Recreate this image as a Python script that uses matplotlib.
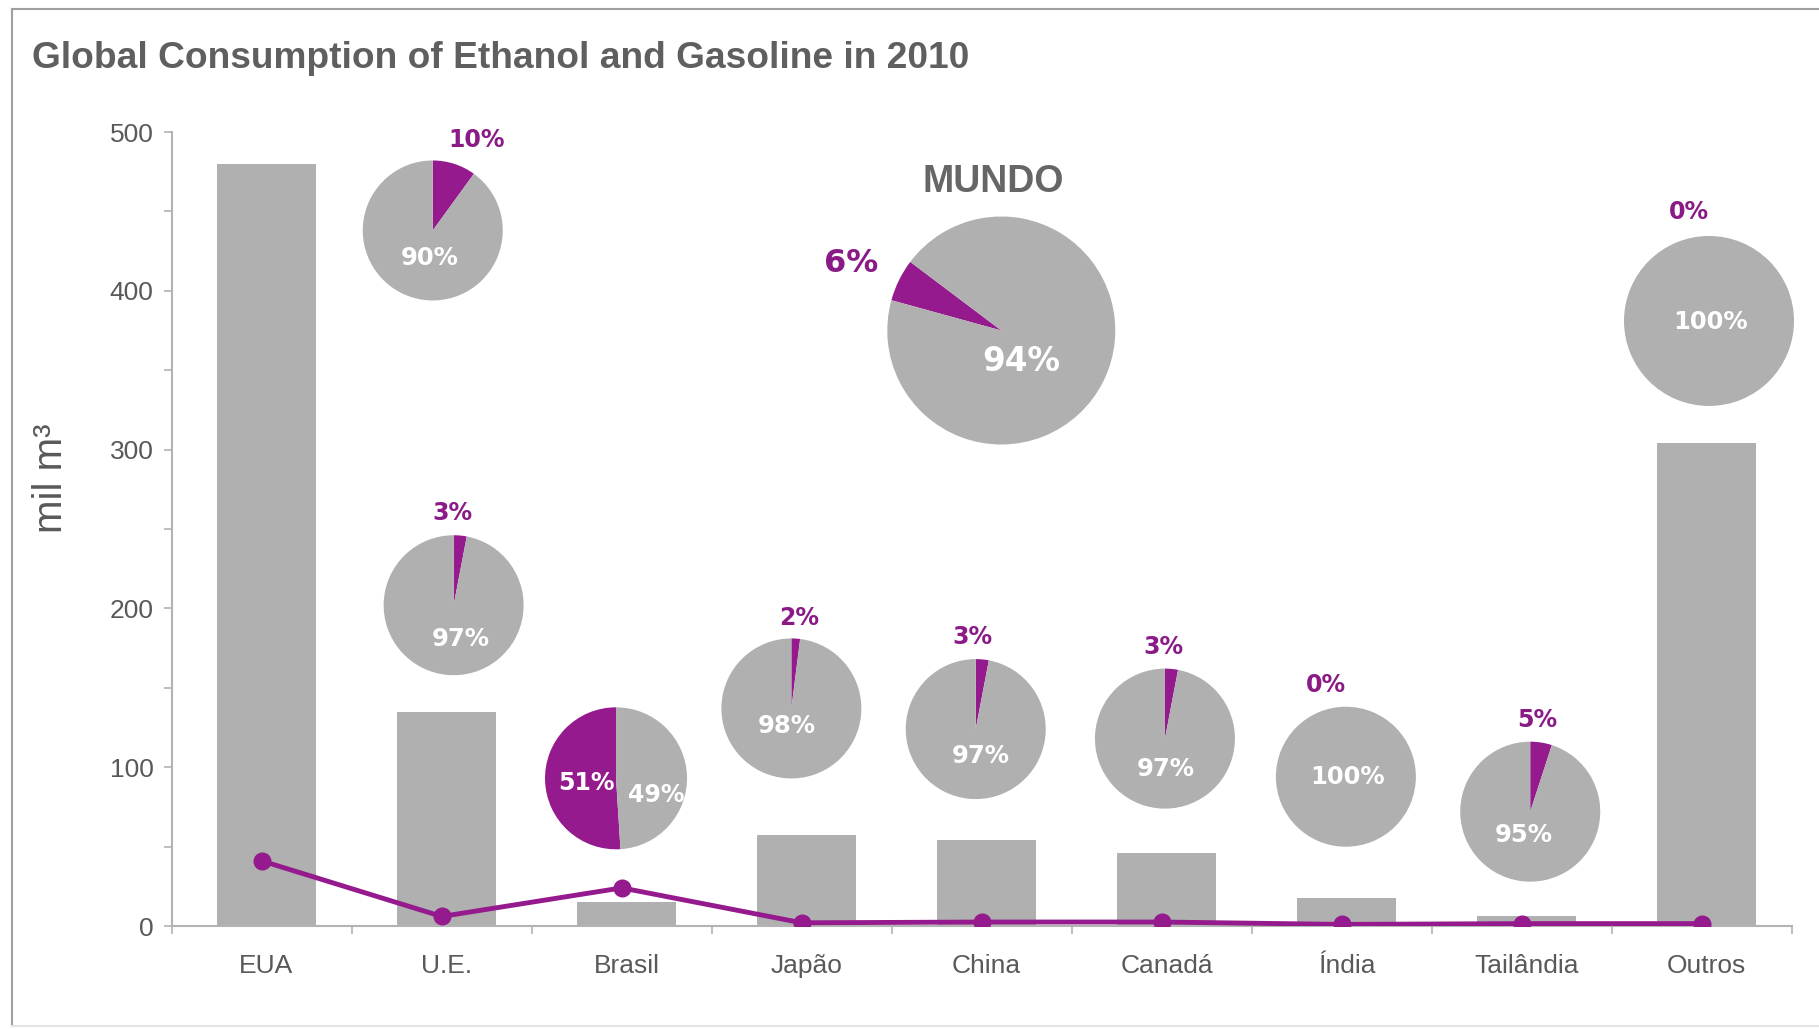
import numpy as np
import matplotlib
matplotlib.use("Agg")
import matplotlib.pyplot as plt
from matplotlib.lines import Line2D

plt.rcParams["font.family"] = ["Liberation Sans", "DejaVu Sans"]

# consumption in thousand m3 (bars: gasoline, line: ethanol)
categories = ["EUA", "U.E.", "Brasil", "Japão", "China", "Canadá", "Índia", "Tailândia", "Outros"]
gasoline = [480, 135, 15, 57, 54, 46, 17.5, 6, 304]
ethanol = [41, 6, 24, 2, 2.5, 2.5, 1, 1.5, 1.5]

# ethanol share of each market (%), drawn as small pies
pie_names = ["U.E. 2009", "U.E.", "Brasil", "Japão", "China", "Canadá", "Índia", "Tailândia", "Outros", "MUNDO"]
pie_share = [10, 3, 51, 2, 3, 3, 0, 5, 0, 6]

GREY = "#b0b0b0"
PURPLE = "#951a8d"
PURPLE_TXT = "#8a1a86"
TEXT = "#595959"

W, H = 1819, 1029
fig = plt.figure(figsize=(W / 100, H / 100), dpi=100)
ax = fig.add_axes([171.7 / W, 103 / H, (1792 - 171.7) / W, (926 - 132) / H])

x = np.arange(len(categories))
bar_shift = 0.026
ax.bar(x + bar_shift, gasoline, width=0.55, color=GREY, zorder=2)
ax.plot(x, ethanol, color=PURPLE, lw=3.5, marker="o", ms=12, zorder=3)

ax.set_xlim(-0.5, len(categories) - 0.5)
ax.set_ylim(0, 500)
for side in ("top", "right"):
    ax.spines[side].set_visible(False)
for side in ("left", "bottom"):
    ax.spines[side].set_color("#b3b3b3")
    ax.spines[side].set_linewidth(1.5)

ax.set_yticks(np.arange(0, 501, 100))
ax.set_yticks(np.arange(50, 500, 100), minor=True)
ax.tick_params(axis="y", which="both", length=6, width=1.2, color="#b3b3b3",
               labelsize=19, labelcolor=TEXT, pad=7)
ax.set_xticks(np.arange(-0.5, len(categories), 1.0))
ax.set_xticklabels([])
ax.set_xticks(x + bar_shift, minor=True)
ax.set_xticklabels(categories, minor=True)
ax.tick_params(axis="x", which="major", length=6, width=1.2, color="#b3b3b3")
ax.tick_params(axis="x", which="minor", length=0, labelsize=19, labelcolor=TEXT, pad=20)

fig.text(51 / W, 1 - 478 / H, "mil m³", rotation=90, ha="center", va="center",
         fontsize=29, color=TEXT)
fig.text(32 / W, 1 - 58.5 / H, "Global Consumption of Ethanol and Gasoline in 2010",
         ha="left", va="center", fontsize=26.7, fontweight="bold", color="#5f5f5f")

# pie anchors: category index, x nudge, height in data units, radius in px
pie_anchor = [(1, -0.05, 438, 70), (1, 0.066, 202, 70), (2, -0.032, 93, 71),
              (3, -0.058, 137, 70), (4, -0.034, 124, 70), (5, 0.017, 118, 70),
              (6, 0.022, 94, 70), (7, 0.046, 72, 70), (8, 0.039, 381, 85),
              (4, 0.108, 375, 114)]
# label offsets in px from pie centre (outer purple label, inner white label)
outer_off = [(44, 90), (-1, 92), None, (8, 90), (-3, 92), (-2, 92), (-20, 92),
             (7, 92), (-20, 109), (-150, 67)]
inner_off = [(-3, -28), (7, -34), None, (-5, -18), (5, -27), (1, -30), (2, 0),
             (-6, -23), (2, -1), (20, -31)]

fig.canvas.draw()
for i, (share, anchor) in enumerate(zip(pie_share, pie_anchor)):
    ci, dx, yv, r = anchor
    cx, cy = ax.transData.transform((ci + dx, yv))
    pax = fig.add_axes([(cx - r) / W, (cy - r) / H, 2 * r / W, 2 * r / H])
    name = pie_names[i]
    if name == "Brasil":
        start, ccw = 90, True
    elif name == "MUNDO":
        start, ccw = 143, True
    else:
        start, ccw = 90, False
    pax.pie([share, 100 - share], colors=[PURPLE, GREY], startangle=start,
            counterclock=ccw, wedgeprops=dict(linewidth=0))
    pax.set_xlim(-1, 1)
    pax.set_ylim(-1, 1)
    big = name == "MUNDO"
    fs_out = 23 if big else 17
    fs_in = 23.5 if big else 17.5
    if name == "Brasil":
        pax.annotate(f"{share}%", (0, 0), xytext=(-30, -5), textcoords="offset pixels",
                     ha="center", va="center", fontsize=17, fontweight="bold",
                     color="white", family="DejaVu Sans", annotation_clip=False)
        pax.annotate(f"{100 - share}%", (0, 0), xytext=(40, -17), textcoords="offset pixels",
                     ha="center", va="center", fontsize=17, fontweight="bold",
                     color="white", family="DejaVu Sans", annotation_clip=False)
        continue
    ox, oy = outer_off[i]
    pax.annotate(f"{share}%", (0, 0), xytext=(ox, oy), textcoords="offset pixels",
                 ha="center", va="center", fontsize=fs_out, fontweight="bold",
                 color=PURPLE_TXT, family="DejaVu Sans", annotation_clip=False)
    ix, iy = inner_off[i]
    pax.annotate(f"{100 - share}%", (0, 0), xytext=(ix, iy), textcoords="offset pixels",
                 ha="center", va="center", fontsize=fs_in, fontweight="bold",
                 color="white", family="DejaVu Sans", annotation_clip=False)
    if big:
        pax.annotate("MUNDO", (0, 0), xytext=(-8, 149), textcoords="offset pixels",
                     ha="center", va="center", fontsize=27, fontweight="bold",
                     color="#666666", annotation_clip=False)

# light frame around the panel
fig.add_artist(Line2D([11.6 / W, 11.6 / W], [1 - 9.3 / H, 1 - 1026 / H],
                      transform=fig.transFigure, color="#a0a0a0", lw=1.5))
fig.add_artist(Line2D([11.6 / W, 1.0], [1 - 9.3 / H, 1 - 9.3 / H],
                      transform=fig.transFigure, color="#a0a0a0", lw=1.5))
fig.add_artist(Line2D([11.6 / W, 1.0], [1 - 1026 / H, 1 - 1026 / H],
                      transform=fig.transFigure, color="#e3e3e3", lw=1.5))

fig.savefig("out.png", dpi=100)
